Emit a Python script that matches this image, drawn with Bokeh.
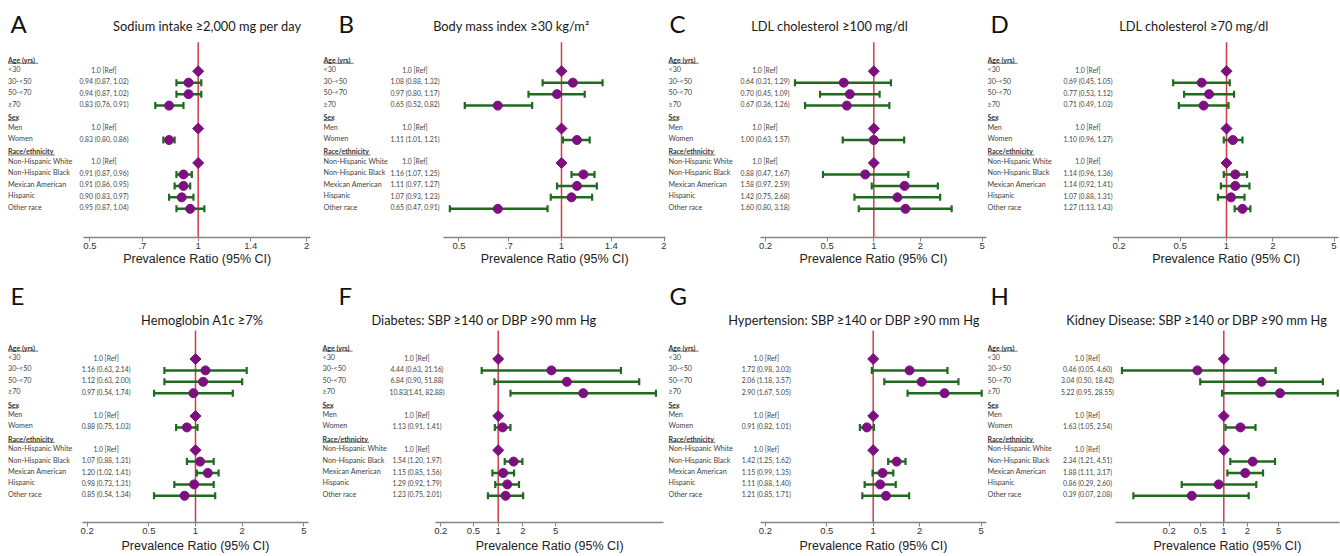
import math
from bokeh.plotting import figure
from bokeh.layouts import gridplot
from bokeh.models import (Range1d, FixedTicker, CustomJSTickFormatter, LogAxis,
                          ColumnDataSource, LabelSet, Label)
from bokeh.core.properties import value
from bokeh.embed import file_html
from bokeh.resources import INLINE

NAN = float("nan")
NULL_VALUE = 1.0

# ---------------- data ----------------
GROUPS = ["Age (yrs)", "Sex", "Race/ethnicity"]
GROUP_ROWS = [["<30", "30-<50", "50-<70", "≥70"],
              ["Men", "Women"],
              ["Non-Hispanic White", "Non-Hispanic Black", "Mexican American",
               "Hispanic", "Other race"]]
IS_REF = [True, False, False, False, True, False, True, False, False, False, False]

SODIUM_PR = [1.0, 0.94, 0.94, 0.83, 1.0, 0.83, 1.0, 0.91, 0.91, 0.90, 0.95]
SODIUM_LO = [NAN, 0.87, 0.87, 0.76, NAN, 0.80, NAN, 0.87, 0.86, 0.83, 0.87]
SODIUM_HI = [NAN, 1.02, 1.02, 0.91, NAN, 0.86, NAN, 0.96, 0.95, 0.97, 1.04]

BMI_PR = [1.0, 1.08, 0.97, 0.65, 1.0, 1.11, 1.0, 1.16, 1.11, 1.07, 0.65]
BMI_LO = [NAN, 0.88, 0.80, 0.52, NAN, 1.01, NAN, 1.07, 0.97, 0.93, 0.47]
BMI_HI = [NAN, 1.32, 1.17, 0.82, NAN, 1.21, NAN, 1.25, 1.27, 1.23, 0.91]

LDL100_PR = [1.0, 0.64, 0.70, 0.67, 1.0, 1.00, 1.0, 0.88, 1.58, 1.42, 1.60]
LDL100_LO = [NAN, 0.31, 0.45, 0.36, NAN, 0.63, NAN, 0.47, 0.97, 0.75, 0.80]
LDL100_HI = [NAN, 1.29, 1.09, 1.26, NAN, 1.57, NAN, 1.67, 2.59, 2.68, 3.18]

LDL70_PR = [1.0, 0.69, 0.77, 0.71, 1.0, 1.10, 1.0, 1.14, 1.14, 1.07, 1.27]
LDL70_LO = [NAN, 0.45, 0.53, 0.49, NAN, 0.96, NAN, 0.96, 0.92, 0.88, 1.13]
LDL70_HI = [NAN, 1.05, 1.12, 1.03, NAN, 1.27, NAN, 1.36, 1.41, 1.31, 1.43]

HBA1C_PR = [1.0, 1.16, 1.12, 0.97, 1.0, 0.88, 1.0, 1.07, 1.20, 0.98, 0.85]
HBA1C_LO = [NAN, 0.63, 0.63, 0.54, NAN, 0.75, NAN, 0.88, 1.02, 0.73, 0.54]
HBA1C_HI = [NAN, 2.14, 2.00, 1.74, NAN, 1.03, NAN, 1.31, 1.41, 1.31, 1.34]

DIAB_PR = [1.0, 4.44, 6.84, 10.83, 1.0, 1.13, 1.0, 1.54, 1.15, 1.29, 1.23]
DIAB_LO = [NAN, 0.63, 0.90, 1.41, NAN, 0.91, NAN, 1.20, 0.85, 0.92, 0.75]
DIAB_HI = [NAN, 31.16, 51.88, 82.88, NAN, 1.41, NAN, 1.97, 1.56, 1.79, 2.01]

HTN_PR = [1.0, 1.72, 2.06, 2.90, 1.0, 0.91, 1.0, 1.42, 1.15, 1.11, 1.21]
HTN_LO = [NAN, 0.98, 1.18, 1.67, NAN, 0.82, NAN, 1.25, 0.99, 0.88, 0.85]
HTN_HI = [NAN, 3.03, 3.57, 5.05, NAN, 1.01, NAN, 1.62, 1.35, 1.40, 1.71]

KID_PR = [1.0, 0.46, 3.04, 5.22, 1.0, 1.63, 1.0, 2.34, 1.88, 0.86, 0.39]
KID_LO = [NAN, 0.05, 0.50, 0.95, NAN, 1.05, NAN, 1.21, 1.11, 0.29, 0.07]
KID_HI = [NAN, 4.60, 18.42, 28.55, NAN, 2.54, NAN, 4.51, 3.17, 2.60, 2.08]

TICKS_LIN = [0.5, 0.7, 1, 1.4, 2]
TICK_LABELS_LIN = ["0.5", ".7", "1", "1.4", "2"]
TICKS_LOG = [0.2, 0.5, 1, 2, 5]
TICK_LABELS_LOG = ["0.2", "0.5", "1", "2", "5"]

AXIS_LABEL = "Prevalence Ratio (95% CI)"

# ---------------- layout / style ----------------
PURPLE = "#7d0f80"
GREEN = "#1f6a1f"
RED = "#d23a4a"
TXT = "#444444"

COL_L = [0, 318, 666, 987]
COL_W = [318, 348, 321, 353]
ROW_T = [0, 278]
ROW_H = [278, 278]
ROW_GEOM = [dict(y0=70.7, sp=11.47, axis=236.7, red_top=41.7, title_y=25.0, letter_y=22.5, xlab_gap=0),
            dict(y0=358.5, sp=11.4, axis=522.0, red_top=330.0, title_y=319.0, letter_y=295.0, xlab_gap=2)]

PANELS = [
    dict(letter="A", title="Sodium intake ≥2,000 mg per day", pr=SODIUM_PR, lo=SODIUM_LO, hi=SODIUM_HI,
         col=0, row=0, R=197.7, k=156.3, ax=(83.3, 310), tcx=206.7, lx=10, labx=7.5, valx=103.5,
         ticks=TICKS_LIN, tl=TICK_LABELS_LIN),
    dict(letter="B", title="Body mass index ≥30 kg/m²", pr=BMI_PR, lo=BMI_LO, hi=BMI_HI,
         col=1, row=0, R=561.0, k=147.9, ax=(443.3, 665), tcx=510.8, lx=338, labx=323, valx=414.5,
         ticks=TICKS_LIN, tl=TICK_LABELS_LIN),
    dict(letter="C", title="LDL cholesterol  ≥100 mg/dl", pr=LDL100_PR, lo=LDL100_LO, hi=LDL100_HI,
         col=2, row=0, R=873.3, k=67.3, ax=(760, 986), tcx=830.8, lx=669, labx=668, valx=764.5,
         ticks=TICKS_LOG, tl=TICK_LABELS_LOG),
    dict(letter="D", title="LDL cholesterol  ≥70 mg/dl", pr=LDL70_PR, lo=LDL70_LO, hi=LDL70_HI,
         col=3, row=0, R=1226.0, k=66.8, ax=(1113.3, 1338), tcx=1195, lx=990, labx=987, valx=1087.5,
         ticks=TICKS_LOG, tl=TICK_LABELS_LOG),
    dict(letter="E", title="Hemoglobin A1c ≥7%", pr=HBA1C_PR, lo=HBA1C_LO, hi=HBA1C_HI,
         col=0, row=1, R=195.0, k=67.3, ax=(81.7, 308.3), tcx=201.7, lx=10, labx=7.5, valx=105.6,
         ticks=TICKS_LOG, tl=TICK_LABELS_LOG),
    dict(letter="F", title="Diabetes: SBP ≥140 or DBP ≥90 mm Hg", pr=DIAB_PR, lo=DIAB_LO, hi=DIAB_HI,
         col=1, row=1, R=497.7, k=35.7, ax=(435, 663.3), tcx=483.8, lx=338, labx=322, valx=416.5,
         ticks=TICKS_LOG, tl=TICK_LABELS_LOG),
    dict(letter="G", title="Hypertension: SBP ≥140 or DBP ≥90 mm Hg", pr=HTN_PR, lo=HTN_LO, hi=HTN_HI,
         col=2, row=1, R=872.7, k=67.0, ax=(760, 986), tcx=853.8, lx=669, labx=668, valx=765.8,
         ticks=TICKS_LOG, tl=TICK_LABELS_LOG),
    dict(letter="H", title="Kidney Disease: SBP ≥140 or DBP ≥90 mm Hg", pr=KID_PR, lo=KID_LO, hi=KID_HI,
         col=3, row=1, R=1223.3, k=34.0, ax=(1115, 1339), tcx=1196.7, lx=990, labx=987, valx=1087,
         ticks=TICKS_LOG, tl=TICK_LABELS_LOG),
]

# slot structure
header_slots, row_slots, row_names = [], [], []
c = -1
for g, items in zip(GROUPS, GROUP_ROWS):
    header_slots.append(c)
    c += 1
    for it in items:
        row_names.append(it)
        row_slots.append(c)
        c += 1


def fmt_val(pr, lo, hi, ref):
    if ref:
        return "1.0 [Ref]"
    sep = " " if pr < 10 else ""
    return f"{pr:.2f}{sep}({lo:.2f}, {hi:.2f})"


def make_panel(s):
    L, W = COL_L[s["col"]], COL_W[s["col"]]
    T, H = ROW_T[s["row"]], ROW_H[s["row"]]
    g = ROW_GEOM[s["row"]]
    y0, sp = g["y0"], g["sp"]
    bb = int(round(T + H - g["axis"]))
    axy = T + H - bb
    R, k = s["R"], s["k"]

    def xv(px):
        return math.exp((px - R) / k)

    def yv(py):
        return (py - y0) / sp

    p = figure(width=W, height=H, x_axis_type="log",
               x_range=Range1d(xv(L), xv(L + W)), y_range=Range1d(yv(axy), yv(T)),
               output_backend="svg", toolbar_location=None, tools="",
               y_axis_location=None, min_border_left=0, min_border_right=0,
               min_border_top=0, min_border_bottom=bb,
               background_fill_color="white", border_fill_color="white")
    p.outline_line_color = None
    p.grid.visible = False

    ax = p.xaxis[0]
    ax.ticker = FixedTicker(ticks=s["ticks"], minor_ticks=[])
    ax.formatter = CustomJSTickFormatter(args=dict(t=s["ticks"], l=s["tl"]), code="""
        for (let i = 0; i < t.length; i++) {
            if (Math.abs(t[i] - tick) < 1e-9 * Math.max(1, Math.abs(tick))) return l[i];
        }
        return "";
    """)
    ax.bounds = (xv(s["ax"][0]), xv(s["ax"][1]))
    ax.axis_line_color = "#858585"
    ax.axis_line_width = 1.5
    ax.major_tick_line_color = "#858585"
    ax.major_tick_line_width = 1
    ax.major_tick_out = 4
    ax.major_tick_in = 0
    ax.minor_tick_line_color = None
    ax.major_label_standoff = 1
    ax.major_label_text_font = "Liberation Sans"
    ax.major_label_text_font_size = "9.5px"
    ax.major_label_text_color = "#333333"

    # axis title, centred under the axis line (second axis that carries only the title)
    mid = xv((s["ax"][0] + s["ax"][1]) / 2)
    ax2 = LogAxis(ticker=FixedTicker(ticks=[mid], minor_ticks=[]),
                  formatter=CustomJSTickFormatter(args=dict(t=AXIS_LABEL), code="return t;"),
                  axis_line_color=None, major_tick_line_color=None, minor_tick_line_color=None,
                  major_tick_out=0, major_tick_in=0, major_label_standoff=g["xlab_gap"],
                  major_label_text_font="Liberation Sans", major_label_text_font_size="12.5px",
                  major_label_text_color="#222222")
    p.add_layout(ax2, "below")

    # reference line at PR = 1
    p.segment(x0=[NULL_VALUE], x1=[NULL_VALUE], y0=[yv(g["red_top"])], y1=[yv(axy)],
              line_color=RED, line_width=1.5)

    pr, lo, hi = s["pr"], s["lo"], s["hi"]
    ci_idx = [i for i in range(len(pr)) if not IS_REF[i]]
    ref_idx = [i for i in range(len(pr)) if IS_REF[i]]
    ci = ColumnDataSource(dict(pr=[pr[i] for i in ci_idx], lo=[lo[i] for i in ci_idx],
                               hi=[hi[i] for i in ci_idx], y=[row_slots[i] for i in ci_idx]))
    rf = ColumnDataSource(dict(pr=[pr[i] for i in ref_idx], y=[row_slots[i] for i in ref_idx]))

    p.segment(x0="lo", x1="hi", y0="y", y1="y", source=ci, line_color=GREEN, line_width=2.5)
    p.scatter(x="lo", y="y", source=ci, marker="dash", angle=math.pi / 2, size=7,
              line_color=GREEN, line_width=2.2)
    p.scatter(x="hi", y="y", source=ci, marker="dash", angle=math.pi / 2, size=7,
              line_color=GREEN, line_width=2.2)
    p.scatter(x="pr", y="y", source=ci, marker="circle", size=9,
              fill_color=PURPLE, line_color=PURPLE)
    p.scatter(x="pr", y="y", source=rf, marker="square", angle=math.pi / 4, size=7.8,
              fill_color=PURPLE, line_color=PURPLE)

    # text columns
    shift = 1.5 / sp
    lab_src = ColumnDataSource(dict(
        y=[ys - shift for ys in row_slots], name=row_names,
        val=[fmt_val(pr[i], lo[i], hi[i], IS_REF[i]) for i in range(len(pr))]))
    p.add_layout(LabelSet(x=s["labx"] - L, y="y", text="name", source=lab_src,
                          x_units="screen", y_units="data",
                          text_font=value("Lato"), text_font_size=value("7.2px"),
                          text_color=value(TXT), text_baseline=value("middle"),
                          text_align=value("left")))
    p.add_layout(LabelSet(x=s["valx"] - L, y="y", text="val", source=lab_src,
                          x_units="screen", y_units="data",
                          text_font=value("Lato"), text_font_size=value("6.8px"),
                          text_color=value(TXT), text_baseline=value("middle"),
                          text_align=value("center")))
    hdr_src = ColumnDataSource(dict(y=header_slots, name=GROUPS))
    p.add_layout(LabelSet(x=s["labx"] - L, y="y", text="name", source=hdr_src,
                          x_units="screen", y_units="data",
                          text_font=value("Lato"), text_font_size=value("7px"),
                          text_font_style=value("bold"),
                          text_color=value("#333333"), text_baseline=value("middle"),
                          text_align=value("left")))
    ul_y = [hs + 3.5 / sp for hs in header_slots]
    p.segment(x0=[xv(s["labx"])] * len(GROUPS),
              x1=[xv(s["labx"] + 3.35 * len(gname)) for gname in GROUPS],
              y0=ul_y, y1=ul_y, line_color="#333333", line_width=0.7)

    # title and panel letter
    p.add_layout(Label(x=s["tcx"] - L, y=yv(g["title_y"]), x_units="screen", y_units="data",
                       text=s["title"], text_font="Lato", text_font_size="12.8px",
                       text_color="#1a1a1a", text_align="center", text_baseline="middle"))
    p.add_layout(Label(x=s["lx"] - L, y=yv(g["letter_y"]), x_units="screen", y_units="data",
                       text=s["letter"], text_font="Lato", text_font_size="24px",
                       text_color="#111111", text_align="left", text_baseline="middle"))
    return p


figs = [make_panel(s) for s in PANELS]
grid = gridplot([figs[:4], figs[4:]], toolbar_location=None)

open("out.html", "w").write(file_html(grid, INLINE))
